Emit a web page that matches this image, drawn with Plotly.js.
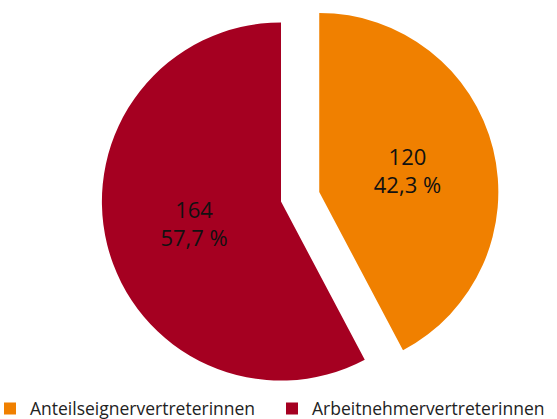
<!DOCTYPE html>
<html>
<head>
<meta charset="utf-8">
<script src="https://cdn.plot.ly/plotly-3.0.1.min.js"></script>
<style>
  html, body { margin: 0; padding: 0; width: 557px; height: 419px; overflow: hidden; background: #fff; }
  #chart { position: absolute; left: -10px; top: -17.5px; width: 660px; height: 437px; }
</style>
</head>
<body>
<div id="chart"></div>
<script>
const labels = ["Anteilseignervertreterinnen", "Arbeitnehmervertreterinnen"];
const values = [120, 164];
const percentLabels = ["42,3 %", "57,7 %"];
const colors = ["rgb(240,128,0)", "rgb(165,0,33)"];
const pulls = [0.22, 0];

const texts = values.map((v, i) => v + "<br>" + percentLabels[i]);

const W = 660;
const centerX = 291;

const trace = {
  type: "pie",
  labels: labels,
  values: values,
  text: texts,
  textinfo: "text",
  textposition: "inside",
  insidetextorientation: "horizontal",
  hoverinfo: "none",
  sort: false,
  direction: "clockwise",
  rotation: 0,
  pull: pulls,
  marker: { colors: colors, line: { width: 0 } },
  insidetextfont: { family: "'Open Sans', sans-serif", size: 22, color: "#111" },
  domain: { x: [0, 2 * centerX / W], y: [0, 1] }
};

const layout = {
  width: W,
  height: 437,
  margin: { l: 0, r: 0, t: 0, b: 0, autoexpand: false },
  paper_bgcolor: "#fff",
  showlegend: true,
  legend: {
    orientation: "h",
    x: 0,
    xanchor: "left",
    y: 0.026,
    yanchor: "middle",
    entrywidth: 237,
    entrywidthmode: "pixels",
    font: { family: "'Open Sans', sans-serif", size: 17.5, color: "#222" },
    traceorder: "normal"
  }
};

Plotly.newPlot("chart", [trace], layout, { displayModeBar: false, staticPlot: true });
</script>
</body>
</html>
